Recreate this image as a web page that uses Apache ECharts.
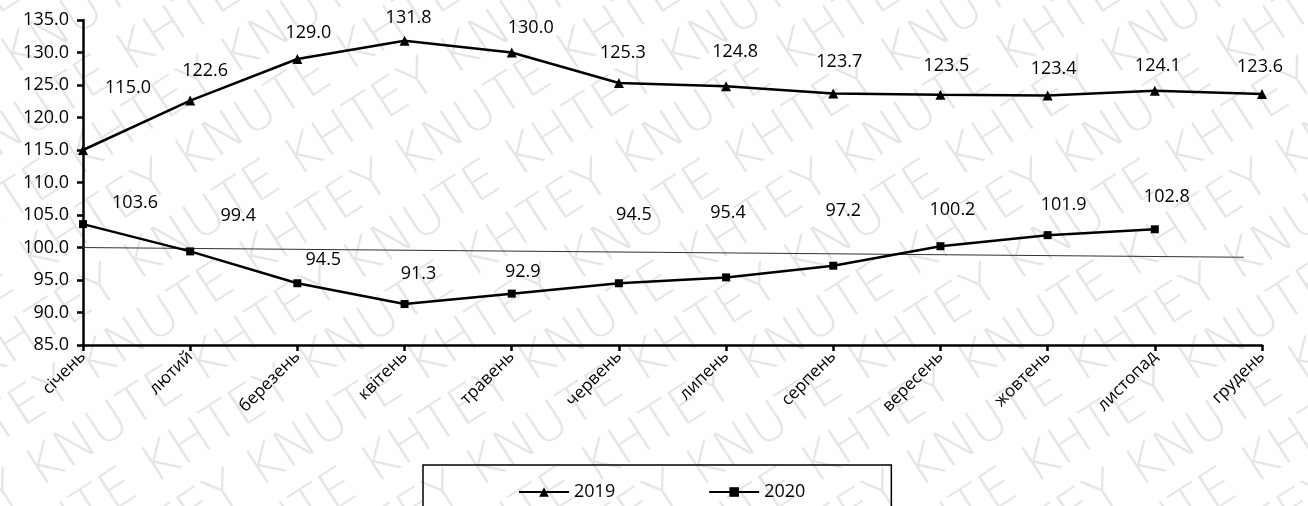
<!DOCTYPE html>
<html>
<head>
<meta charset="utf-8">
<script src="https://cdn.jsdelivr.net/npm/echarts@6/dist/echarts.min.js"></script>
<style>
  html, body { margin: 0; padding: 0; background: #fff; }
  #chart { width: 1308px; height: 506px; }
</style>
</head>
<body>
<div id="chart"></div>
<script>
// Months of the year
const months = ['січень', 'лютий', 'березень', 'квітень', 'травень', 'червень',
  'липень', 'серпень', 'вересень', 'жовтень', 'листопад', 'грудень'];

// Monthly index values
const values2019 = [115.0, 122.6, 129.0, 131.8, 130.0, 125.3, 124.8, 123.7, 123.5, 123.4, 124.1, 123.6];
const values2020 = [103.6, 99.4, 94.5, 91.3, 92.9, 94.5, 95.4, 97.2, 100.2, 101.9, 102.8];

// Thin reference line: [month position, value] at its two ends
const refLine = [[-0.05, 100.0], [10.83, 98.5]];

// Y axis range and step
const yMin = 85, yMax = 135, yStep = 5;

// Hand-placed label offsets (px) relative to each point
const offsets2019 = [[45, -62], [15, -30], [11, -26], [4, -23], [19, -25], [4, -30],
  [9, -34], [6, -32], [6, -29], [6, -27], [3, -25], [-2, -27]];
const offsets2020 = [[52, -21], [48, -36], [26, -23], [14, -30], [11, -22], [15, -68],
  [2, -65], [10, -55], [12, -36], [16, -30], [12, -32]];

const FONT = 'Open Sans';
const FS = 18;

function withLabels(vals, offs) {
  return vals.map((v, i) => ({ value: v, label: { offset: offs[i] } }));
}

// Diagonal background watermark
function watermark() {
  const els = [];
  const words = 'KHTEY KNUTE KHTEY KNUTE KHTEY KNUTE KHTEY KNUTE KHTEY KNUTE';
  const ang = 33 * Math.PI / 180;
  for (let k = -9; k < 16; k++) {
    els.push({
      type: 'text',
      x: k * 110,
      y: 600,
      rotation: ang,
      silent: true,
      z: -10,
      style: {
        text: (k % 2 ? words : 'KNUTE ' + words),
        font: '200 52px "DejaVu Sans"',
        fill: 'rgba(0,0,0,0.1)',
        textVerticalAlign: 'bottom'
      }
    });
  }
  return els;
}

const chart = echarts.init(document.getElementById('chart'), null, { renderer: 'canvas' });
chart.setOption({
  backgroundColor: '#fff',
  animation: false,
  graphic: watermark(),
  grid: { left: 83, right: 46, top: 20, bottom: 161, containLabel: false },
  legend: {
    left: 423,
    top: 465,
    padding: [18, 86, 40, 95],
    borderColor: '#000',
    borderWidth: 1.5,
    itemGap: 93,
    itemWidth: 50,
    itemHeight: 12,
    textStyle: { fontFamily: FONT, fontSize: FS, color: '#000' },
    data: ['2019', '2020']
  },
  xAxis: [{
    type: 'category',
    data: months,
    boundaryGap: false,
    axisLine: { lineStyle: { color: '#000', width: 2.5 } },
    axisTick: { alignWithLabel: true, length: 6, lineStyle: { color: '#000', width: 2.5 } },
    axisLabel: { rotate: 45, margin: 9, color: '#000', fontFamily: FONT, fontSize: 17 },
    splitLine: { show: false }
  }, {
    type: 'value',
    min: 0,
    max: 11,
    show: false
  }],
  yAxis: {
    type: 'value',
    min: yMin,
    max: yMax,
    interval: yStep,
    axisLine: { show: true, lineStyle: { color: '#000', width: 2.5 } },
    axisTick: { show: true, length: 6, lineStyle: { color: '#000', width: 2.5 } },
    axisLabel: {
      margin: 14, color: '#000', fontFamily: FONT, fontSize: FS,
      formatter: v => v.toFixed(1)
    },
    splitLine: { show: false }
  },
  series: [{
    name: '2019',
    type: 'line',
    data: withLabels(values2019, offsets2019),
    symbol: 'triangle',
    symbolSize: 10,
    lineStyle: { color: '#000', width: 2.5 },
    itemStyle: { color: '#000' },
    label: {
      show: true, position: 'inside', color: '#000', fontFamily: FONT, fontSize: FS,
      formatter: p => p.value.toFixed(1)
    },
    z: 5
  }, {
    name: '2020',
    type: 'line',
    data: withLabels(values2020, offsets2020),
    symbol: 'rect',
    symbolSize: 8,
    lineStyle: { color: '#000', width: 2.5 },
    itemStyle: { color: '#000' },
    label: {
      show: true, position: 'inside', color: '#000', fontFamily: FONT, fontSize: FS,
      formatter: p => p.value.toFixed(1)
    },
    z: 5
  }, {
    name: 'ref',
    type: 'line',
    xAxisIndex: 1,
    data: refLine,
    symbol: 'none',
    clip: false,
    lineStyle: { color: '#333', width: 1 },
    silent: true,
    z: 3
  }]
});
</script>
</body>
</html>
